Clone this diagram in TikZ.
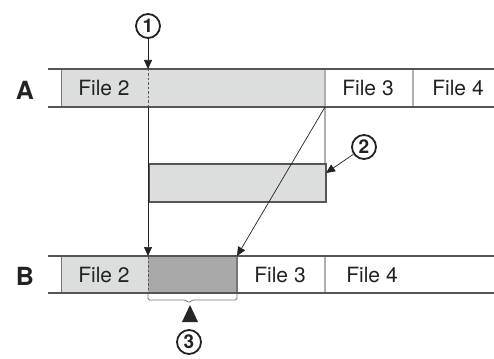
\documentclass[tikz,border=0pt]{standalone}
\usepackage{fontspec}
\setmainfont{TeX Gyre Heros}
\usetikzlibrary{arrows.meta}
\definecolor{lgray}{HTML}{DCDEDD}
\definecolor{dgray}{HTML}{A9A9A9}
\definecolor{lnc}{HTML}{555555}
\definecolor{divc}{HTML}{AFAFAF}
\definecolor{txc}{HTML}{222222}
\tikzset{
  rowline/.style={draw=lnc, line width=1.6pt},
  divline/.style={draw=divc, line width=1.4pt},
  edgeline/.style={draw=lnc!80, line width=0.9pt},
  dashline/.style={draw=lnc, line width=0.8pt, dashed, dash pattern=on 2.5pt off 2pt},
  conn/.style={draw=txc, line width=0.7pt, -{Triangle[width=8pt,length=9pt]}},
  filetext/.style={font=\fontsize{21}{25}\selectfont, text=txc, inner sep=0pt},
  rowlabel/.style={font=\fontsize{25}{29}\selectfont\bfseries, text=txc, inner sep=0pt},
  numcirc/.style={circle, draw=txc, line width=1.8pt, minimum size=24pt, inner sep=0pt,
     font=\fontsize{19}{22}\selectfont\bfseries, text=txc},
}
\begin{document}
\begin{tikzpicture}[x=1pt,y=-1pt]
\useasboundingbox (0,0) rectangle (494,358);
% ---------- Row A ----------
\fill[lgray] (61,69) rectangle (325,107);
\draw[edgeline] (61,69) -- (61,107);
\draw[divline] (325,69) -- (325,163);
\draw[divline] (413,69) -- (413,107);
\draw[dashline] (148,69) -- (148,107);
\draw[rowline] (48,69) -- (494,69);
\draw[rowline] (48,107) -- (494,107);
\node[rowlabel] (labA) at (25,90) {A};
\node[filetext] (a2) at (104,88) {File 2};
\node[filetext] (a3) at (368,88) {File 3};
\node[filetext] (a4) at (458,88) {File 4};
\coordinate (aTop) at (148,69);
\coordinate (aBot) at (148,107);
\coordinate (aEnd) at (325,107);
% ---------- middle box ----------
\node[draw=lnc, line width=1.5pt, fill=lgray, minimum width=177pt, minimum height=38pt,
      inner sep=0pt, anchor=north west] (mid) at (148,163) {};
% ---------- Row B ----------
\fill[lgray] (61,256) rectangle (148,293);
\fill[dgray] (148,256) rectangle (237,293);
\draw[edgeline] (61,256) -- (61,293);
\draw[draw=lnc!80, line width=1.2pt] (237,256) -- (237,293);
\draw[divline] (325,256) -- (325,293);
\draw[dashline] (148,256) -- (148,293);
\draw[rowline] (48,256) -- (494,256);
\draw[rowline] (48,293) -- (494,293);
\node[rowlabel] (labB) at (25,276) {B};
\node[filetext] (b2) at (104,275) {File 2};
\node[filetext] (b3) at (280,275) {File 3};
\node[filetext] (b4) at (372,275) {File 4};
\coordinate (bTop) at (148,256);
\coordinate (bNew) at (237,256);
% ---------- markers ----------
\node[numcirc] (n1) at (148,26) {1};
\node[numcirc] (n2) at (364,147) {2};
\node[numcirc] (n3) at (189,342) {3};
\draw[conn] (n1) -- (aTop);
\draw[conn] (aBot) -- (bTop);
\draw[conn] (aEnd) -- (bNew);
\coordinate (midR) at (326,173);
\draw[conn] (n2) -- (midR);
% brace
\draw[draw=lnc!80, line width=0.8pt, rounded corners=1.5pt]
  (148,294) -- (148,300) -- (186,300) -- (189,303) -- (192,300) -- (237,300) -- (237,294);
\coordinate (triTop) at (190,305);
\fill[black!85] (triTop) -- (182,322) -- (198,322) -- cycle;
\end{tikzpicture}
\end{document}
